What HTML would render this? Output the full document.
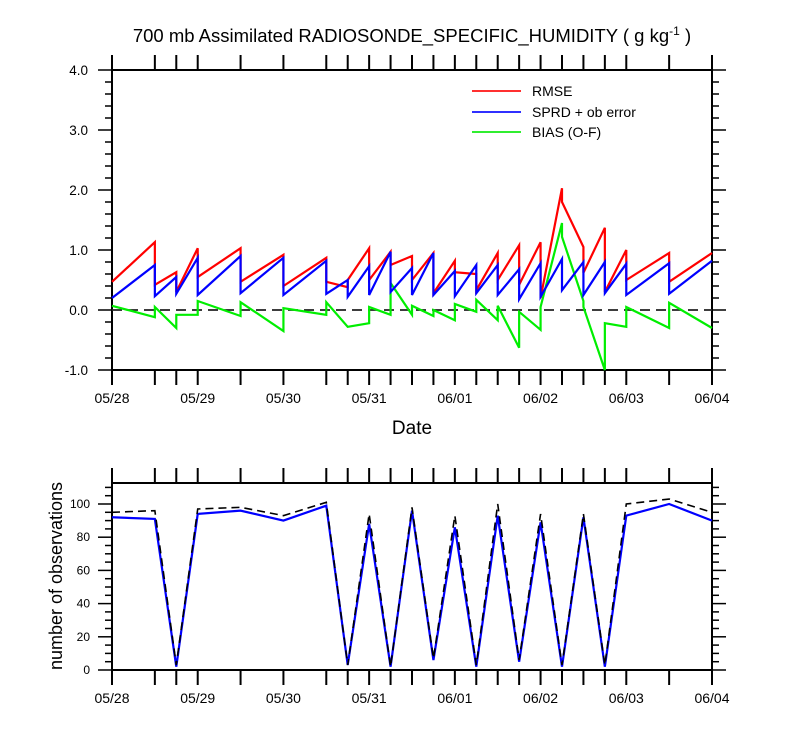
<!DOCTYPE html>
<html><head><meta charset="utf-8"><style>
body{margin:0;background:#fff;}
svg{display:block;font-family:"Liberation Sans",Arial,sans-serif;}
</style></head><body>
<svg id="c" width="800" height="750"></svg>
<script>
const hours=[0,12,18,24,36,48,60,66,72,78,84,90,96,102,108,114,120,126,132,138,144,156,168];
const dateLabels=["05/28","05/29","05/30","05/31","06/01","06/02","06/03","06/04"];
const topTicks=["-1.0","0.0","1.0","2.0","3.0","4.0"];
const botTicks=["0","20","40","60","80","100"];
// [hour, value] pairs; repeated hour => vertical jump (prior/posterior)
const rmse=[[0,0.47],[12,1.13],[12,0.42],[18,0.63],[18,0.3],[24,1.03],[24,0.55],[36,1.03],[36,0.47],[48,0.92],[48,0.4],[60,0.87],[60,0.47],[66,0.38],[66,0.5],[72,1.03],[72,0.5],[78,0.97],[78,0.75],[84,0.9],[84,0.5],[90,0.95],[90,0.28],[96,0.82],[96,0.63],[102,0.6],[102,0.33],[108,0.95],[108,0.5],[114,1.08],[114,0.42],[120,1.13],[120,0.2],[126,2.03],[126,1.8],[132,1.05],[132,0.62],[138,1.37],[138,0.3],[144,1.0],[144,0.5],[156,0.95],[156,0.47],[168,0.95]];
const sprd=[[0,0.2],[12,0.75],[12,0.23],[18,0.55],[18,0.27],[24,0.87],[24,0.25],[36,0.9],[36,0.28],[48,0.87],[48,0.25],[60,0.82],[60,0.27],[66,0.5],[66,0.22],[72,0.73],[72,0.25],[78,0.97],[78,0.3],[84,0.7],[84,0.25],[90,0.95],[90,0.25],[96,0.65],[96,0.23],[102,0.75],[102,0.28],[108,0.75],[108,0.25],[114,0.68],[114,0.18],[120,0.78],[120,0.22],[126,0.85],[126,0.33],[132,0.8],[132,0.25],[138,0.8],[138,0.28],[144,0.77],[144,0.25],[156,0.78],[156,0.27],[168,0.82]];
const bias=[[0,0.07],[12,-0.12],[12,0.05],[18,-0.3],[18,-0.08],[24,-0.08],[24,0.15],[36,-0.1],[36,0.13],[48,-0.35],[48,0.03],[60,-0.08],[60,0.13],[66,-0.28],[72,-0.22],[72,0.05],[78,-0.08],[78,0.45],[84,-0.08],[84,0.07],[90,-0.1],[90,0.0],[96,-0.17],[96,0.1],[102,-0.03],[102,0.17],[108,-0.17],[108,0.07],[114,-0.63],[114,-0.03],[120,-0.33],[120,0.05],[126,1.45],[126,1.22],[132,0.15],[132,0.05],[138,-1.0],[138,-0.22],[144,-0.28],[144,0.05],[156,-0.3],[156,0.12],[168,-0.3]];
const nUsed=[92,91,2,94,96,90,99,3,88,2,96,6,86,2,93,5,89,2,92,2,93,100,90];
const nTotal=[95,96,3,97,98,93,101,3,94,2,98,7,93,3,100,6,94,3,94,3,100,103,95];

const svg=document.getElementById('c');
const NS='http://www.w3.org/2000/svg';
function mk(tag,attrs,parent){const e=document.createElementNS(NS,tag);for(const k in attrs)e.setAttribute(k,attrs[k]);(parent||svg).appendChild(e);return e;}
const X0=112,X1=712;
const xs=h=>X0+(X1-X0)*h/168;
const yTop=v=>310-60*v;
const BY0=670,BPX=1.66;
const yBot=v=>BY0-BPX*v;

let t=mk('text',{x:412,y:42,'text-anchor':'middle','font-size':18.5});


t.innerHTML='700 mb Assimilated RADIOSONDE_SPECIFIC_HUMIDITY ( g kg<tspan dy="-7" font-size="12">-1</tspan><tspan dy="7"> )</tspan>';

function panel(yt,yb,name){
  const g=mk('g',{});
  
  
  mk('rect',{x:X0,y:yt,width:X1-X0,height:yb-yt,fill:'none',stroke:'#000','stroke-width':2},g);
  hours.forEach(h=>{
    mk('line',{x1:xs(h),x2:xs(h),y1:yt,y2:yt-15,stroke:'#000','stroke-width':2},g);
    mk('line',{x1:xs(h),x2:xs(h),y1:yb,y2:yb+15,stroke:'#000','stroke-width':2},g);
  });
  dateLabels.forEach((d,i)=>{
    const tx=mk('text',{x:xs(i*24),y:yb+33,'text-anchor':'middle','font-size':14},g);
    
    
    tx.textContent=d;
  });
  return g;
}
const gTop=panel(70,370,'top-panel');
for(let v=-1;v<=4.001;v+=0.2){
  const y=yTop(v), major=Math.abs(v-Math.round(v))<1e-6;
  const L=major?14:7;
  mk('line',{x1:X0,x2:X0-L,y1:y,y2:y,stroke:'#000','stroke-width':1.5},gTop);
  mk('line',{x1:X1,x2:X1+L,y1:y,y2:y,stroke:'#000','stroke-width':1.5},gTop);
}
topTicks.forEach(s=>{
  const tx=mk('text',{x:88,y:yTop(parseFloat(s))+5,'text-anchor':'end','font-size':13.5},gTop);
  
  
  tx.textContent=s;
});
const zl=mk('line',{x1:X0,x2:X1,y1:yTop(0),y2:yTop(0),stroke:'#222','stroke-width':1.8,'stroke-dasharray':'10,6'});


function series(arr,color,name){
  const p=mk('polyline',{points:arr.map(a=>xs(a[0])+','+yTop(a[1])).join(' '),fill:'none',stroke:color,'stroke-width':2.2,'stroke-linejoin':'miter'});
  
  
}
series(bias,'#00ee00','bias-line');
series(rmse,'#ff0000','rmse-line');
series(sprd,'#0000ff','sprd-line');
[['RMSE','#ff3030',91],['SPRD + ob error','#3030ff',112],['BIAS (O-F)','#30ee30',132]].forEach(l=>{
  const g=mk('g',{});
  
  
  mk('line',{x1:472,x2:521,y1:l[2],y2:l[2],stroke:l[1],'stroke-width':2},g);
  const tx=mk('text',{x:532,y:l[2]+5,'font-size':14},g);
  tx.textContent=l[0];
});
const xt=mk('text',{x:412,y:434,'text-anchor':'middle','font-size':19});


xt.textContent='Date';

const gBot=panel(483,670,'bottom-panel');
for(let v=0;v<=112;v+=5){
  const y=yBot(v), major=v%20===0;
  const L=major?14:7;
  mk('line',{x1:X0,x2:X0-L,y1:y,y2:y,stroke:'#000','stroke-width':1.5},gBot);
  mk('line',{x1:X1,x2:X1+L,y1:y,y2:y,stroke:'#000','stroke-width':1.5},gBot);
}
botTicks.forEach(s=>{
  const tx=mk('text',{x:90,y:yBot(+s)+4,'text-anchor':'end','font-size':12},gBot);
  
  
  tx.textContent=s;
});
const yt2=mk('text',{x:0,y:0,'text-anchor':'middle','font-size':18,transform:'translate(62,576) rotate(-90)'});


yt2.textContent='number of observations';
const pu=mk('polyline',{points:hours.map((h,i)=>xs(h)+','+yBot(nUsed[i])).join(' '),fill:'none',stroke:'#0000ff','stroke-width':2.2});


const pt=mk('polyline',{points:hours.map((h,i)=>xs(h)+','+yBot(nTotal[i])).join(' '),fill:'none',stroke:'#000','stroke-width':1.6,'stroke-dasharray':'8,5'});


</script>
</body></html>
